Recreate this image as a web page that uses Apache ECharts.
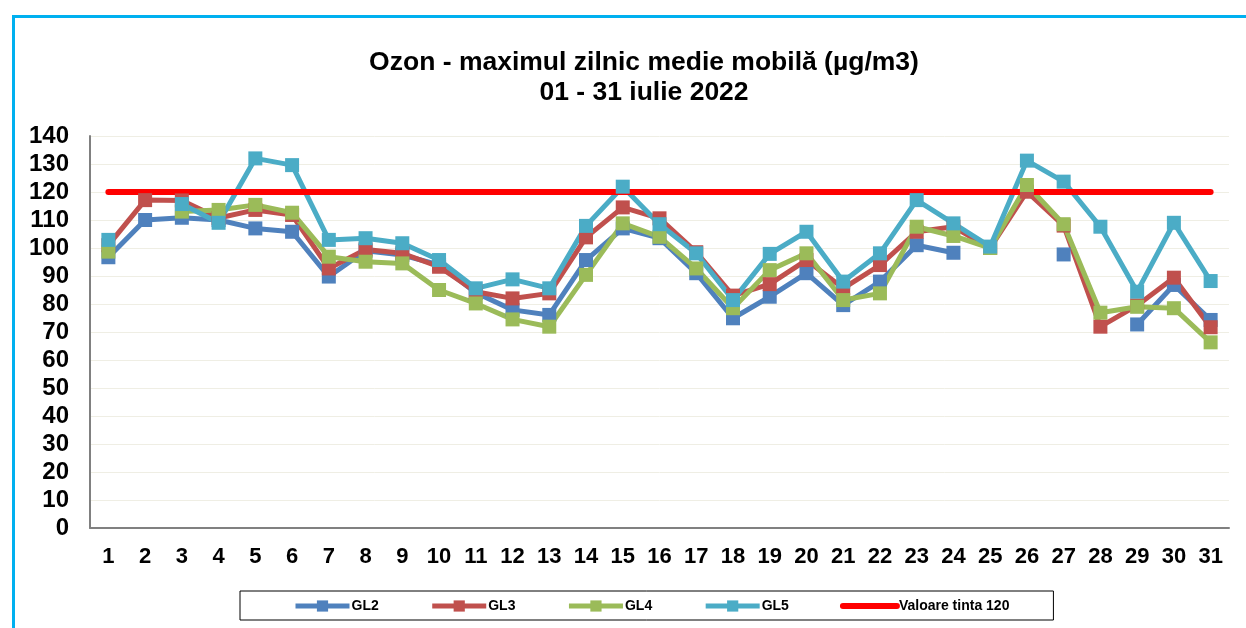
<!DOCTYPE html>
<html>
<head>
<meta charset="utf-8">
<script src="https://cdn.jsdelivr.net/npm/echarts@6/dist/echarts.min.js"></script>
<style>
  html, body { margin: 0; padding: 0; background: #fff; }
  #main { width: 1246px; height: 628px; }
</style>
</head>
<body>
<div id="main"></div>
<script>
// zilele lunii
var days = [];
for (var d = 1; d <= 31; d++) days.push(String(d));

// valori (µg/m3), null = lipsa date
var gl2 = [96.7, 110, 110.8, 110, 107, 105.8, 89.8, 99, 97.5, 94, 84, 77.9, 76.1, 95.7, 107, 103.5, 91, 74.9, 82.6, 91, 79.6, 88, 101, 98.3, null, null, 97.7, null, 72.7, 86.8, 74.3];
var gl3 = [101, 117.1, 117, 110.7, 113.6, 111.8, 92.7, 99.5, 98.1, 93.3, 84.4, 82, 83.8, 103.8, 114.5, 110.6, 98.5, 83, 87.1, 95.7, 85.6, 93.9, 105.8, 107.6, 100, 120.1, 108, 71.9, 79.5, 89.4, 71.7];
var gl4 = [98.7, null, 113, 113.6, 115.4, 112.6, 96.9, 95.1, 94.5, 85, 80.2, 74.5, 71.9, 90.4, 108.8, 104, 92.7, 78.5, 92.1, 98.1, 81.4, 83.8, 107.6, 104.3, 100, 122.5, 108.5, 76.9, 79, 78.5, 66.3];
var gl5 = [102.9, null, 115.7, 109, 132, 129.6, 102.9, 103.5, 101.7, 95.7, 85.6, 88.8, 85.6, 107.9, 121.9, 108.5, 98.1, 81.4, 97.9, 105.8, 88, 98.1, 117.1, 108.8, 100.5, 131.2, 123.7, 107.6, 84.4, 109, 88.2];
var tinta = days.map(function () { return 120; });

var yTicks = [0, 140, 10];

var chart = echarts.init(document.getElementById('main'));

function serie(name, data, color) {
  return {
    name: name,
    type: 'line',
    data: data,
    symbol: 'rect',
    symbolSize: 14,
    connectNulls: false,
    lineStyle: { width: 5, color: color },
    itemStyle: { color: color },
    emphasis: { disabled: true },
    animation: false
  };
}

var option = {
  backgroundColor: '#fff',
  textStyle: { fontFamily: 'Liberation Sans, Arial, sans-serif' },
  title: {
    text: 'Ozon - maximul zilnic medie mobilă (µg/m3)\n01 - 31 iulie 2022',
    left: 639,
    textAlign: 'center',
    top: 43,
    textStyle: { fontSize: 26.5, fontWeight: 'bold', color: '#000', lineHeight: 30 }
  },
  legend: {
    data: ['GL2', 'GL3', 'GL4', 'GL5', { name: 'Valoare tinta 120', itemStyle: { opacity: 0 } }],
    left: 240,
    top: 591,
    padding: [8, 44, 7, 53],
    borderColor: '#000',
    borderWidth: 1,
    itemWidth: 54,
    itemHeight: 14,
    itemGap: 51,
    lineStyle: { width: 'inherit' },
    textStyle: { fontSize: 14, fontWeight: 'bold', color: '#000', padding: [0, 0, 0, -3] }
  },
  grid: { left: 90, right: 17, top: 136, bottom: 100, containLabel: false },
  xAxis: {
    type: 'category',
    data: days,
    boundaryGap: true,
    axisLine: { lineStyle: { color: '#808080', width: 2 } },
    axisTick: { show: false },
    axisLabel: { fontSize: 22, fontWeight: 'bold', color: '#000', margin: 18 }
  },
  yAxis: {
    type: 'value',
    min: yTicks[0],
    max: yTicks[1],
    interval: yTicks[2],
    axisLine: { show: true, lineStyle: { color: '#808080', width: 2 } },
    axisTick: { show: false },
    splitLine: { lineStyle: { color: '#efeee4', width: 1 } },
    axisLabel: { fontSize: 24, fontWeight: 'bold', color: '#000', margin: 21 }
  },
  series: [
    serie('GL2', gl2, '#4f81bd'),
    serie('GL3', gl3, '#c0504d'),
    serie('GL4', gl4, '#9bbb59'),
    serie('GL5', gl5, '#4bacc6'),
    {
      name: 'Valoare tinta 120',
      type: 'line',
      data: tinta,
      symbol: 'none',
      lineStyle: { width: 6, color: '#ff0000', cap: 'round' },
      itemStyle: { color: '#ff0000' },
      emphasis: { disabled: true },
      animation: false
    }
  ],
  graphic: [
    {
      type: 'polyline',
      shape: { points: [[13.5, 640], [13.5, 16.5], [1260, 16.5]] },
      style: { stroke: '#00b0f0', lineWidth: 3, fill: null },
      silent: true
    }
  ]
};
chart.setOption(option);
</script>
</body>
</html>
